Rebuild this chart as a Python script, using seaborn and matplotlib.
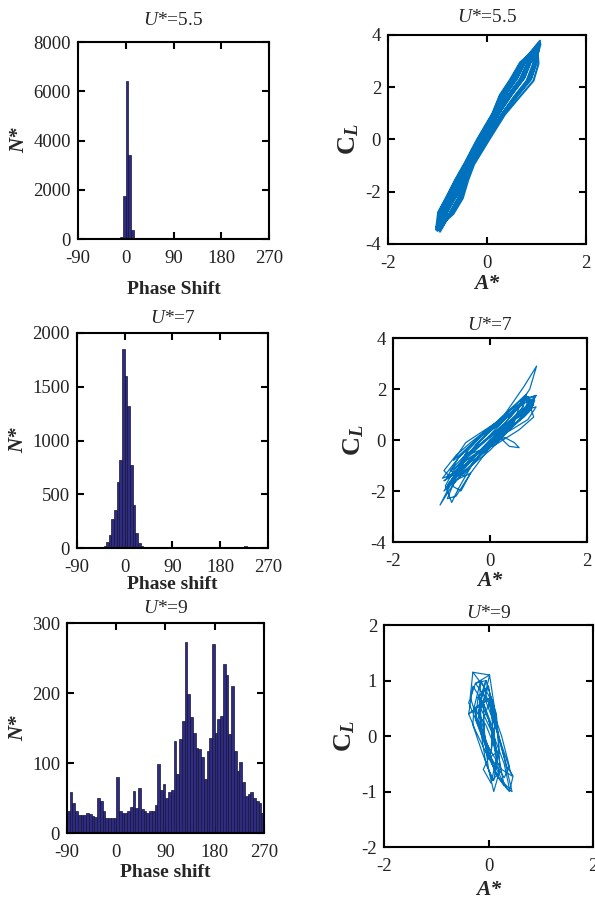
import numpy as np
import matplotlib
matplotlib.use("Agg")
import matplotlib.pyplot as plt
import seaborn as sns

# Phase-shift histograms: bin start (deg) and counts, 5 deg bins
bin_edges = list(range(-90, 275, 5))

bins_55 = [-10, -5, 0, 5, 10]
counts_55 = [100, 1750, 6400, 3400, 350]

bins_7 = [-50, -45, -40, -35, -30, -25, -20, -15, -10, -5, 0, 5, 10, 15,
          20, 25, 30, 35, 40, 45, 225, 230]
counts_7 = [5, 8, 15, 55, 120, 270, 350, 615, 820, 1848, 1600, 1320, 775, 400,
            140, 45, 20, 10, 6, 4, 15, 8]

bins_9 = list(range(-90, 270, 5))
counts_9 = [32, 58, 43, 31, 26, 26, 26, 28, 27, 25, 23, 50, 46, 32, 21, 21, 21, 22,
            80, 31, 29, 28, 32, 37, 60, 36, 65, 35, 32, 29, 31, 32, 40, 98, 62, 70,
            50, 59, 62, 131, 85, 134, 160, 273, 199, 166, 143, 122, 120, 108, 77, 117, 136, 270,
            143, 163, 167, 241, 226, 141, 210, 117, 88, 101, 73, 53, 56, 58, 50, 46, 43, 28]

# Lift coefficient vs amplitude traces
a_55 = [-0.96, -0.79, -0.61, -0.43, -0.18, 0.14, 0.30, 0.52, 0.71, 1.07, 0.97, 0.85, 0.59, 0.31, -0.02, -0.30, -0.43, -0.56, -0.74, -0.95,
        -0.90, -0.72, -0.56, -0.39, -0.13, 0.19, 0.38, 0.61, 0.78, 1.02, 1.04, 0.94, 0.67, 0.36, 0.03, -0.26, -0.38, -0.49, -0.68, -1.03,
        -0.99, -0.82, -0.63, -0.45, -0.20, 0.11, 0.26, 0.47, 0.67, 0.98, 0.89, 0.75, 0.51, 0.26, -0.06, -0.34, -0.48, -0.62, -0.80, -0.90,
        -0.84, -0.66, -0.51, -0.36, -0.09, 0.24, 0.47, 0.71, 0.86, 1.05, 1.00, 0.89, 0.63, 0.34, 0.01, -0.28, -0.41, -0.52, -0.71, -1.00,
        -0.93, -0.75, -0.58, -0.41, -0.15, 0.16, 0.34, 0.56, 0.74, 0.95, 0.93, 0.80, 0.55, 0.29, -0.04, -0.32, -0.46, -0.59, -0.77, -0.97,
        -0.87, -0.69, -0.53, -0.37, -0.11, 0.21, 0.42, 0.66, 0.82, 1.06, 1.00, 0.89, 0.63, 0.34, 0.01, -0.28, -0.41, -0.52, -0.71, -0.92,
        -0.99, -0.82, -0.63, -0.45, -0.20, 0.11, 0.26, 0.47, 0.67, 1.00, 0.86, 0.71, 0.47, 0.24, -0.09, -0.36, -0.51, -0.66, -0.84, -1.02,
        -0.80, -0.62, -0.48, -0.34, -0.06, 0.26, 0.51, 0.75, 0.89, 1.03, 0.74, 0.56, 0.34, 0.16, -0.15, -0.41, -0.58, -0.75, -0.93, -0.88,
        -0.74, -0.56, -0.43, -0.30, -0.02, 0.31, 0.59, 0.85, 0.97, 1.08, 0.78, 0.61, 0.38, 0.19, -0.13, -0.39, -0.56, -0.72, -0.90, -0.98,
        -0.96, -0.79, -0.61, -0.43, -0.18, 0.14, 0.30, 0.52, 0.71, 0.99, 0.82, 0.66, 0.42, 0.21, -0.11, -0.37, -0.53, -0.69, -0.87, -1.00]
cl_55 = [-2.8, -2.2, -1.5, -0.9, 0.0, 1.0, 1.7, 2.3, 2.95, 3.78, 2.95, 2.3, 1.7, 1.0, 0.0, -0.9, -1.5, -2.2, -2.8, -3.53,
         -2.75, -2.15, -1.45, -0.85, 0.05, 1.05, 1.75, 2.35, 3.0, 3.45, 2.9, 2.25, 1.65, 0.95, -0.05, -0.95, -1.55, -2.25, -2.85, -3.45,
         -2.85, -2.25, -1.55, -0.95, -0.05, 0.95, 1.65, 2.25, 2.9, 3.3, 3.0, 2.35, 1.75, 1.05, 0.05, -0.85, -1.45, -2.15, -2.75, -3.3,
         -2.8, -2.2, -1.5, -0.9, 0.0, 1.0, 1.7, 2.3, 2.95, 3.6, 2.95, 2.3, 1.7, 1.0, 0.0, -0.9, -1.5, -2.2, -2.8, -3.5,
         -2.75, -2.15, -1.45, -0.85, 0.05, 1.05, 1.75, 2.35, 3.0, 3.2, 2.9, 2.25, 1.65, 0.95, -0.05, -0.95, -1.55, -2.25, -2.85, -3.2,
         -2.85, -2.25, -1.55, -0.95, -0.05, 0.95, 1.65, 2.25, 2.9, 3.7, 3.0, 2.35, 1.75, 1.05, 0.05, -0.85, -1.45, -2.15, -2.75, -3.4,
         -2.8, -2.2, -1.5, -0.9, 0.0, 1.0, 1.7, 2.3, 2.95, 3.5, 2.95, 2.3, 1.7, 1.0, 0.0, -0.9, -1.5, -2.2, -2.8, -3.35,
         -2.75, -2.15, -1.45, -0.85, 0.05, 1.05, 1.75, 2.35, 3.0, 3.35, 2.9, 2.25, 1.65, 0.95, -0.05, -0.95, -1.55, -2.25, -2.85, -3.1,
         -2.85, -2.25, -1.55, -0.95, -0.05, 0.95, 1.65, 2.25, 2.9, 3.65, 3.0, 2.35, 1.75, 1.05, 0.05, -0.85, -1.45, -2.15, -2.75, -3.4,
         -2.8, -2.2, -1.5, -0.9, 0.0, 1.0, 1.7, 2.3, 2.95, 3.4, 2.95, 2.3, 1.7, 1.0, 0.0, -0.9, -1.5, -2.2, -2.8, -3.25]

a_7 = [-0.85, -0.55, -0.25, 0.20, 0.65, 0.90, 0.80, 0.40, 0.00, -0.45, -0.80,
       -0.70, -0.45, -0.10, 0.30, 0.72, 0.88, 0.55, 0.15, -0.30, -0.65,
       -0.95, -0.60, -0.20, 0.30, 0.70, 0.96, 0.82, 0.55, 0.20, -0.25, -0.60,
       -0.55, -0.85, -1.03, -0.80, -0.45, -0.05, 0.45, 0.80, 0.70, 0.30, -0.15,
       -0.10, 0.30, 0.50, 0.60, 0.40, 0.15, 0.50, 0.85, 0.90, 0.60, 0.10,
       -0.50, -0.75, -0.92, -0.79, -0.65, -0.35, 0.00, 0.40, 0.75, 0.95, 0.78, 0.35, -0.05,
       -0.60, -0.30, 0.10, 0.50, 0.75, 0.68, 0.35, -0.05, -0.45, -0.85, -0.95, -0.70, -0.40,
       -0.20, 0.20, 0.60, 0.78, 0.65, 0.90, 0.70, 0.25, -0.20, -0.60, -0.90, -0.65, -0.35,
       -0.75, -0.50, -0.10, 0.30, 0.60, 0.50, 0.10, -0.30, -0.70, -0.95,
       -0.80, -0.40, 0.05, 0.45, 0.85, 0.72, 0.40, -0.05, -0.50, -0.78, -0.60, -0.40, -0.85,
       -0.90, -0.55, -0.15, 0.25, 0.60, 0.92, 0.85, 0.50, 0.10, -0.35, -0.70, -0.98,
       -0.65, -0.30, 0.05, 0.45, 0.70, 0.62, 0.30, -0.05, -0.40, -0.75, -0.88,
       -0.70, -0.40, -0.05, 0.35, 0.75, 0.95, 0.72, 0.32, -0.10, -0.52, -0.82,
       -0.55, -0.20, 0.15, 0.55, 0.85, 0.80, 0.45, 0.05, -0.35, -0.62,
       -0.45, -0.15, 0.20, 0.50, 0.78, 0.95, 0.68, 0.28, -0.10, -0.50, -0.80]
cl_7 = [-1.7, -0.9, -0.1, 0.7, 1.4, 1.6, 1.1, 0.4, -0.4, -1.1, -1.6,
        -1.3, -0.4, 0.3, 1.0, 1.75, 1.5, 0.7, 0.0, -0.8, -1.5,
        -2.0, -1.0, 0.0, 1.0, 2.1, 2.9, 2.0, 1.2, 0.4, -0.5, -1.3,
        -1.2, -2.0, -2.55, -1.7, -0.6, 0.3, 1.2, 1.7, 1.0, 0.2, -0.5,
        -0.3, 0.1, -0.1, -0.3, -0.25, 0.2, 0.8, 1.2, 0.9, 0.4, -0.2,
        -0.6, -1.2, -1.8, -2.45, -1.9, -0.9, 0.0, 0.6, 1.2, 1.3, 0.8, 0.3, -0.3,
        -0.9, -0.2, 0.5, 1.1, 1.8, 1.3, 0.6, -0.1, -0.9, -1.4, -1.2, -0.6, -0.1,
        0.2, 0.8, 1.5, 1.7, 1.6, 1.4, 0.9, 0.3, -0.4, -1.1, -1.5, -0.7, -0.1,
        -0.8, -0.1, 0.4, 0.9, 1.3, 0.7, 0.1, -0.6, -1.3, -1.6,
        -1.4, -0.5, 0.2, 0.8, 1.5, 1.6, 1.0, 0.1, -0.7, -1.8, -2.0, -1.3, -1.7,
        -1.9, -1.1, -0.3, 0.4, 1.0, 1.55, 1.2, 0.6, -0.1, -0.8, -1.3, -1.5,
        -0.7, 0.0, 0.5, 1.0, 1.45, 1.0, 0.45, -0.2, -1.0, -1.7, -2.3,
        -2.2, -1.3, -0.4, 0.4, 1.0, 1.75, 1.55, 0.7, 0.0, -0.6, -1.2,
        -1.4, -0.6, 0.1, 0.7, 1.3, 1.1, 0.5, -0.1, -0.6, -1.0,
        -0.3, 0.2, 0.6, 1.2, 1.65, 1.75, 1.2, 0.55, -0.05, -0.75, -1.2]

a_9 = [-0.30, -0.10, 0.10, 0.30, 0.45, 0.35, 0.10, -0.15, -0.35, -0.30,
       0.02, 0.10, 0.18, 0.22, 0.10, 0.00, -0.08, -0.10, 0.02,
       -0.25, 0.05, 0.25, 0.40, 0.30, 0.05, -0.20, -0.38, -0.25,
       -0.05, 0.15, 0.20, 0.10, -0.05, -0.15, -0.15, -0.05,
       -0.12, 0.08, 0.30, 0.45, 0.25, 0.00, -0.20, -0.12,
       0.00, 0.12, 0.05, -0.10, 0.05, 0.15, 0.05, -0.15, 0.00,
       -0.20, 0.00, 0.20, 0.30, 0.15, -0.05, -0.25, -0.20,
       -0.10, 0.10, 0.15, 0.00, -0.10, -0.20, -0.10,
       -0.38, -0.30, -0.10, 0.10, 0.30, 0.40, 0.20, -0.05, -0.25, -0.38,
       0.05, 0.15, 0.25, 0.35, 0.47, 0.40, 0.15, -0.05, -0.10, 0.05,
       -0.28, -0.05, 0.12, 0.20, 0.08, -0.12, -0.30, -0.28,
       -0.15, 0.02, 0.08, 0.05, -0.05, -0.18, -0.15]
cl_9 = [1.15, 0.9, 0.3, -0.4, -1.0, -0.95, -0.5, 0.1, 0.7, 1.15,
        1.1, 0.6, 0.0, -0.6, -1.0, -0.6, 0.0, 0.6, 1.1,
        0.95, 0.55, 0.0, -0.55, -0.75, -0.4, 0.2, 0.6, 0.95,
        1.0, 0.4, -0.2, -0.8, -0.5, 0.1, 0.6, 1.0,
        0.8, 0.3, -0.3, -0.72, -0.6, -0.2, 0.3, 0.8,
        0.9, 0.2, -0.3, -0.6, -0.85, -0.4, 0.1, 0.5, 0.9,
        0.7, 0.3, -0.4, -0.9, -0.7, -0.2, 0.3, 0.7,
        0.6, 0.1, -0.3, -0.4, 0.0, 0.45, 0.6,
        0.4, 0.9, 0.6, 0.0, -0.5, -0.95, -0.75, -0.3, 0.1, 0.4,
        0.7, 0.2, -0.2, -0.55, -0.72, -1.0, -0.7, -0.2, 0.3, 0.7,
        0.5, 0.2, -0.2, -0.65, -0.8, -0.3, 0.2, 0.5,
        1.0, 0.7, 0.2, -0.3, -0.1, 0.5, 1.0]

sns.set_theme(style="ticks")
plt.rcParams["font.family"] = ["Liberation Serif", "DejaVu Serif"]
plt.rcParams["mathtext.fontset"] = "custom"
plt.rcParams["mathtext.rm"] = "Liberation Serif"
plt.rcParams["mathtext.it"] = "Liberation Serif:italic"
plt.rcParams["mathtext.bf"] = "Liberation Serif:bold"
plt.rcParams["mathtext.bfit"] = "Liberation Serif:bold:italic"
plt.rcParams["axes.unicode_minus"] = False

bar_color = "#2E2B80"
line_color = "#0072BD"

fig = plt.figure(figsize=(5.95, 8.99), dpi=100)

hist_pos = [[0.1311, 0.7341, 0.3210, 0.2191],
            [0.1294, 0.3904, 0.3210, 0.2392],
            [0.1126, 0.0734, 0.3311, 0.2336]]
loop_pos = [[0.6521, 0.7286, 0.3328, 0.2325],
            [0.6605, 0.3971, 0.3261, 0.2269],
            [0.6454, 0.0578, 0.3513, 0.2469]]

# (bins, counts, ymax, yticks, U*, xlabel, title pad, xlabel pad)
hist_data = [(bins_55, counts_55, 8000, [0, 2000, 4000, 6000, 8000], "5.5", "Phase Shift", 12, 10),
             (bins_7, counts_7, 2000, [0, 500, 1000, 1500, 2000], "7", "Phase shift", 7.5, 0),
             (bins_9, counts_9, 300, [0, 100, 200, 300], "9", "Phase shift", 7, 2)]
loop_data = [(a_55, cl_55, 4, [-4, -2, 0, 2, 4], "5.5", 1.5, 9, 1.5),
             (a_7, cl_7, 4, [-4, -2, 0, 2, 4], "7", 0.9, 6, 0.5),
             (a_9, cl_9, 2, [-2, -1, 0, 1, 2], "9", 0.85, 5, 3.5)]


def style_axes(ax):
    for s in ax.spines.values():
        s.set_linewidth(1.5)
        s.set_color("black")
    ax.tick_params(direction="in", top=True, right=True, length=5, width=1.5,
                   labelsize=13.5, colors="black", labelcolor="#222222")
    ax.tick_params(axis="x", pad=8)
    ax.tick_params(axis="y", pad=5)


# Left column: phase shift histograms
for pos, (starts, counts, ymax, yt, u, xl, tpad, lpad) in zip(hist_pos, hist_data):
    ax = fig.add_axes(pos)
    centers = [s + 2.5 for s in starts]
    sns.histplot(x=centers, weights=counts, bins=bin_edges, ax=ax, color=bar_color,
                 edgecolor="#15153a", linewidth=0.5, alpha=1)
    ax.set_xlim(-90, 270)
    ax.set_ylim(0, ymax)
    ax.set_xticks([-90, 0, 90, 180, 270])
    ax.set_yticks(yt)
    ax.set_title(r"$U$*=" + u, fontsize=14, pad=tpad)
    ax.set_xlabel(xl, fontsize=14, fontweight="bold", labelpad=lpad)
    ax.set_ylabel("N*", fontsize=15, fontweight="bold", fontstyle="italic", labelpad=3)
    style_axes(ax)

# Right column: C_L vs A* traces
for pos, (a, cl, lim, yt, u, lw, tpad, lpad) in zip(loop_pos, loop_data):
    ax = fig.add_axes(pos)
    sns.lineplot(x=a, y=cl, sort=False, estimator=None, ax=ax, color=line_color, linewidth=lw)
    ax.set_xlim(-2, 2)
    ax.set_ylim(-lim, lim)
    ax.set_xticks([-2, 0, 2])
    ax.set_yticks(yt)
    ax.set_title(r"$U$*=" + u, fontsize=14, pad=tpad)
    ax.set_xlabel("A*", fontsize=15.5, fontweight="bold", fontstyle="italic", labelpad=lpad)
    ax.set_ylabel(r"$\mathbf{C}_{\mathbfit{L}}$", fontsize=19, labelpad=3)
    style_axes(ax)

fig.savefig("out.png", dpi=100)
